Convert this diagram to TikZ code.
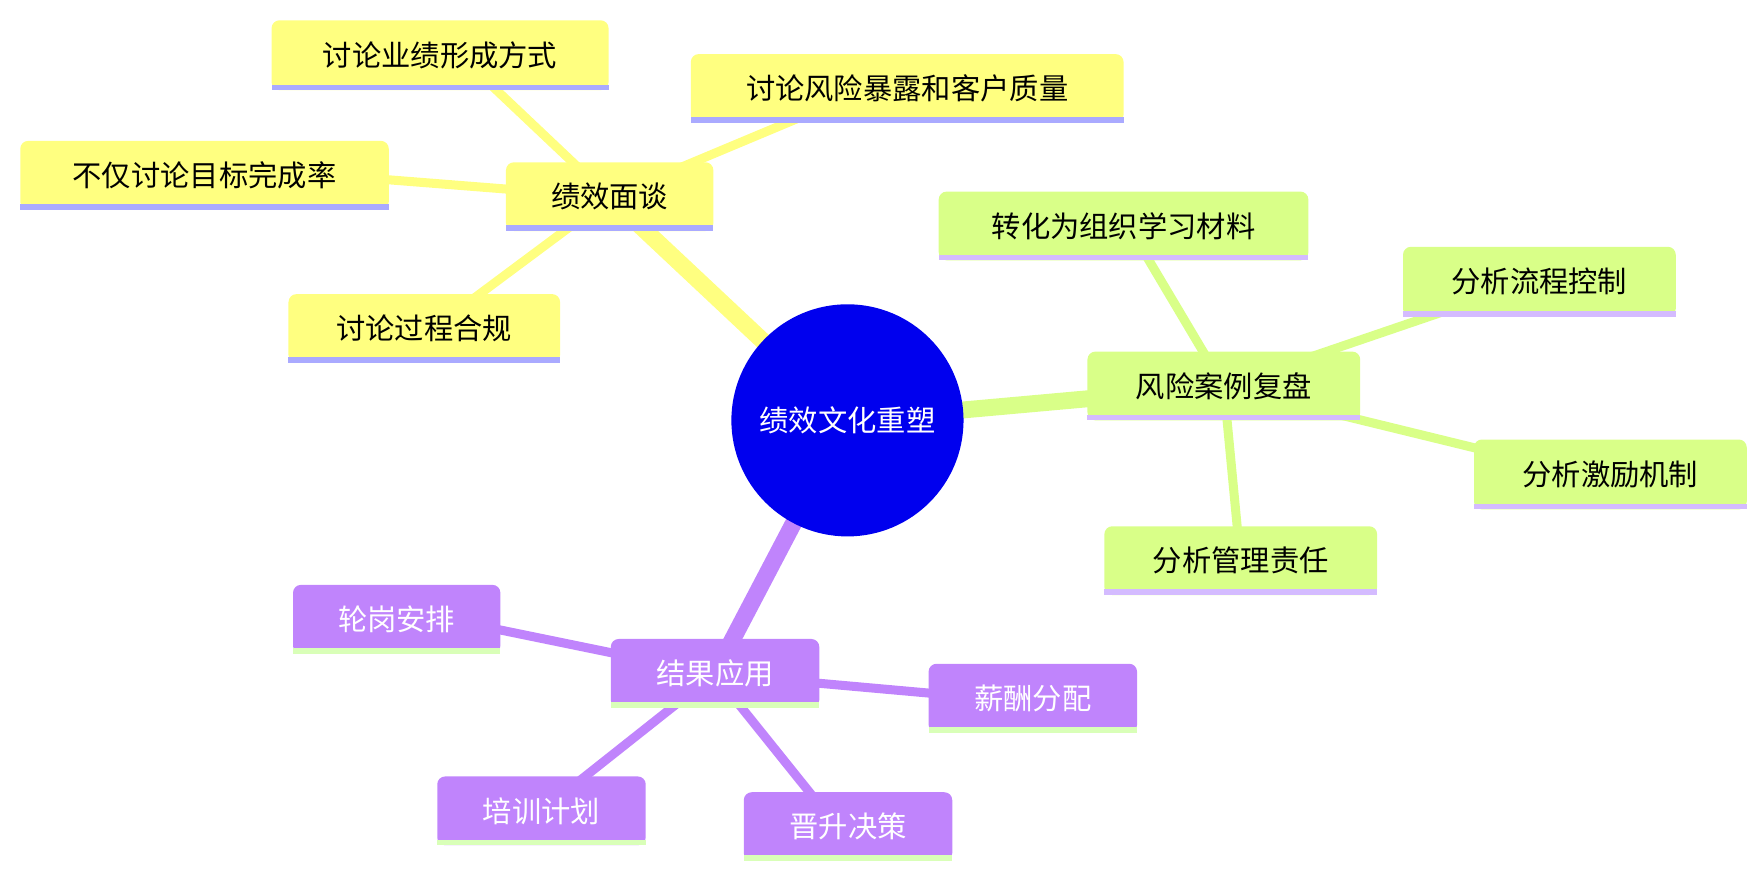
\documentclass[tikz,border=0pt]{standalone}
\usepackage{fontspec}
\setmainfont{Noto Sans CJK SC}
\begin{document}
\begin{tikzpicture}[x=1pt,y=-1pt,
  box/.style={rounded corners=7pt,inner sep=0pt,font=\fontsize{26}{30}\selectfont},
  ylw/.style={box,fill=yY,text=black},
  grn/.style={box,fill=gG,text=black},
  prp/.style={box,fill=pP,text=white},
  trunk/.style={line width=15pt},
  twig/.style={line width=8pt}]
\definecolor{yY}{HTML}{FFFF80}
\definecolor{yU}{HTML}{AAAAFF}
\definecolor{gG}{HTML}{D9FF88}
\definecolor{gU}{HTML}{D4BBFF}
\definecolor{pP}{HTML}{C084FC}
\definecolor{pU}{HTML}{D9FFB8}
\definecolor{cB}{HTML}{0000EE}
\useasboundingbox (0,0) rectangle (1560,777);
\newcommand\mmbox[9]{%
  \node[#6,minimum width=#4-#2,minimum height=#5-#3] (#1) at ({(#2+#4)/2},{(#3+#5)/2}) {#9};
  \fill[#7] (#2,#5) rectangle (#4,#5-5);}
\coordinate (c) at (752,373);
\coordinate (y0) at (541,175);
\coordinate (g0) at (1086,343);
\coordinate (p0) at (634,598);
\coordinate (ya1) at (430,70);
\coordinate (ya2) at (720,100);
\coordinate (ya3) at (300,156);
\coordinate (ya4) at (400,280);
\coordinate (gb1) at (1010,215);
\coordinate (gb2) at (1300,270);
\coordinate (gb3) at (1360,410);
\coordinate (gb4) at (1100,490);
\coordinate (pp1) at (400,550);
\coordinate (pp2) at (880,620);
\coordinate (pp3) at (480,720);
\coordinate (pp4) at (740,730);
\draw[trunk,yY] (c) -- (y0);
\foreach \t in {ya1,ya2,ya3,ya4} \draw[twig,yY] (y0) -- (\t);
\draw[trunk,gG] (c) -- (g0);
\foreach \t in {gb1,gb2,gb3,gb4} \draw[twig,gG] (g0) -- (\t);
\draw[trunk,pP] (c) -- (p0);
\foreach \t in {pp1,pp2,pp3,pp4} \draw[twig,pP] (p0) -- (\t);
\node[circle,fill=cB,minimum size=206pt,inner sep=0pt,text=white,font=\fontsize{26}{30}\selectfont] (root) at (c) {绩效文化重塑};
\mmbox{a}{449}{144}{633}{205}{ylw}{yU}{}{绩效面谈}
\mmbox{a1}{241}{18}{540}{80}{ylw}{yU}{}{讨论业绩形成方式}
\mmbox{a2}{613}{48}{997}{109}{ylw}{yU}{}{讨论风险暴露和客户质量}
\mmbox{a3}{18}{125}{345}{186}{ylw}{yU}{}{不仅讨论目标完成率}
\mmbox{a4}{256}{261}{497}{322}{ylw}{yU}{}{讨论过程合规}
\mmbox{b}{965}{312}{1207}{373}{grn}{gU}{}{风险案例复盘}
\mmbox{b1}{833}{170}{1161}{231}{grn}{gU}{}{转化为组织学习材料}
\mmbox{b2}{1245}{219}{1487}{281}{grn}{gU}{}{分析流程控制}
\mmbox{b3}{1308}{390}{1550}{452}{grn}{gU}{}{分析激励机制}
\mmbox{b4}{980}{467}{1222}{528}{grn}{gU}{}{分析管理责任}
\mmbox{p}{542}{567}{727}{628}{prp}{pU}{}{结果应用}
\mmbox{p1}{260}{519}{444}{580}{prp}{pU}{}{轮岗安排}
\mmbox{p2}{824}{589}{1009}{650}{prp}{pU}{}{薪酬分配}
\mmbox{p3}{388}{689}{573}{750}{prp}{pU}{}{培训计划}
\mmbox{p4}{660}{703}{845}{764}{prp}{pU}{}{晋升决策}
\end{tikzpicture}
\end{document}
